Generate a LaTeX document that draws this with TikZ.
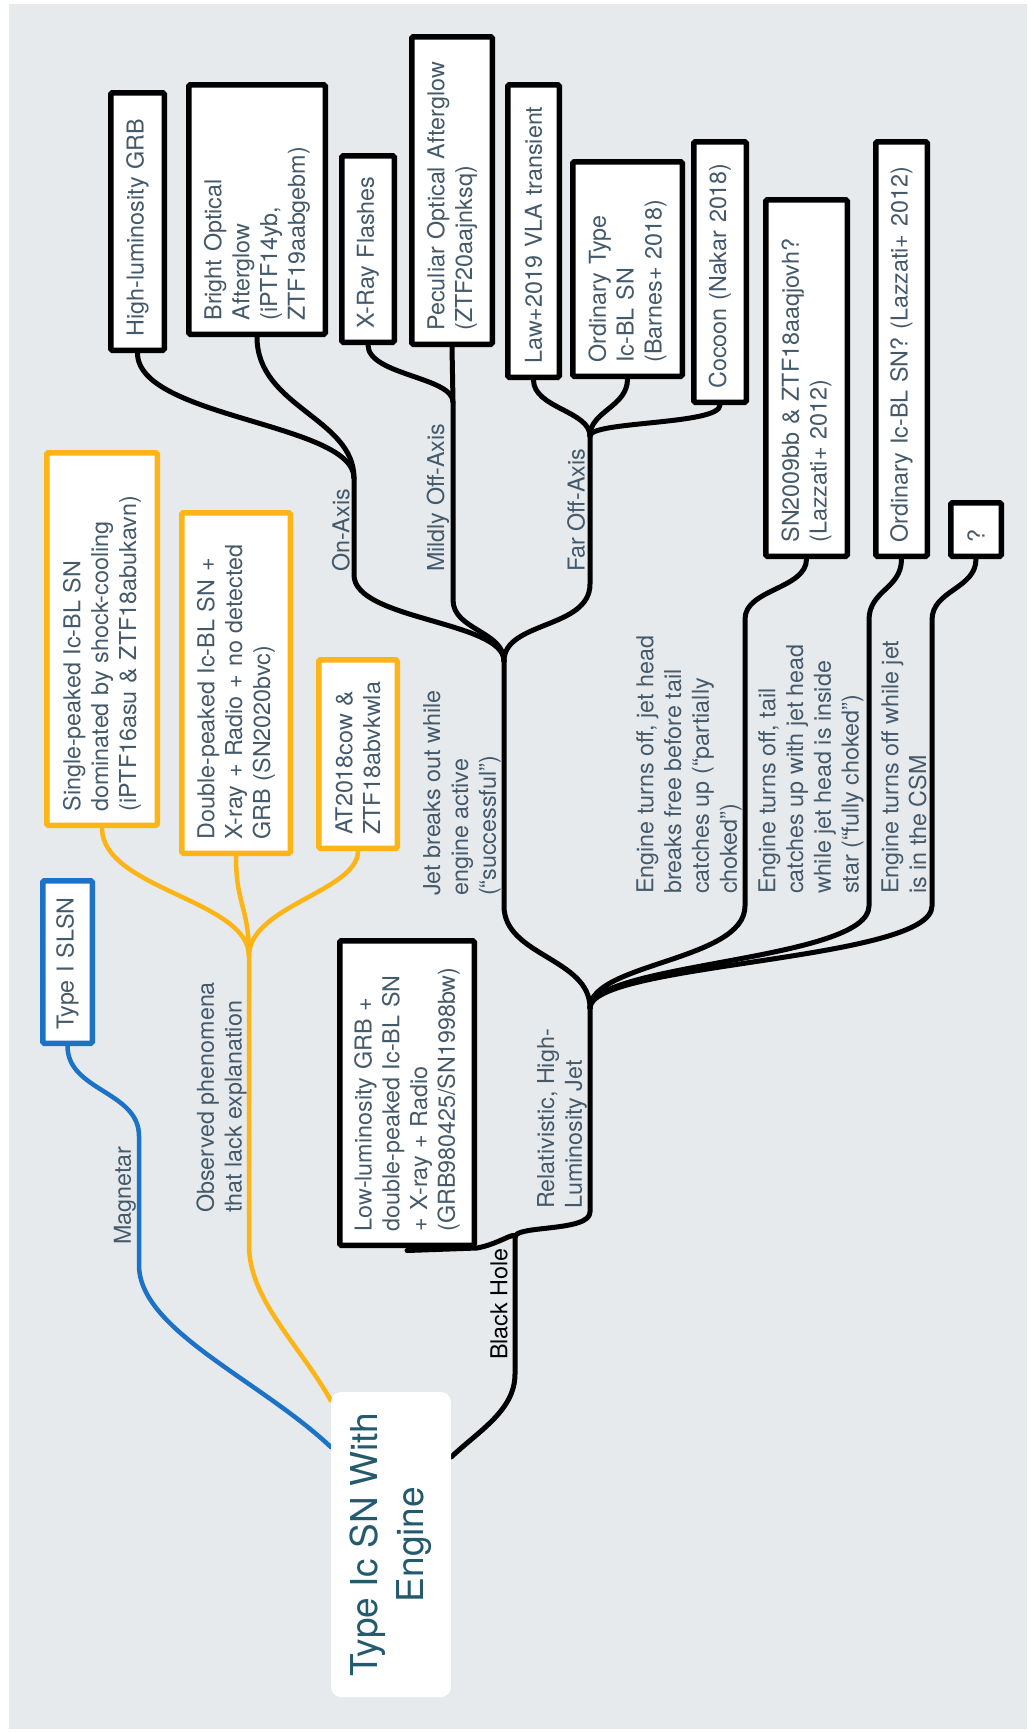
\documentclass[tikz,border=0pt]{standalone}
\usepackage{fontspec}
\setmainfont{TeX Gyre Heros}
\definecolor{bggray}{HTML}{E6EAED}
\definecolor{txt}{HTML}{44596A}
\definecolor{roottxt}{HTML}{235A6E}
\definecolor{mblue}{HTML}{1C72C6}
\definecolor{morange}{HTML}{FDB515}
\pgfdeclarelayer{back}
\pgfdeclarelayer{edges}
\pgfsetlayers{back,edges,main}
\hyphenpenalty=10000
\exhyphenpenalty=10000
\newcommand\mkbox[7]{%
  \pgfmathsetmacro\mkbxx{(#3+#5)/2}%
  \pgfmathsetmacro\mkbxy{(#4+#6)/2}%
  \pgfmathsetmacro\mkbxw{#6-#4-5.5}%
  \pgfmathsetmacro\mkbxh{#5-#3-5.5}%
  \pgfmathsetmacro\mkbxt{#6-#4-33}%
  \node[#2, minimum width=\mkbxw pt, minimum height=\mkbxh pt, text width=\mkbxt pt] (#1) at (\mkbxx,\mkbxy) {#7};%
}
\begin{document}
\begin{tikzpicture}[x=1pt,y=-1pt,
  txtfont/.style={font=\fontsize{23.3}{27.8}\selectfont},
  tbox/.style={draw=black, line width=5.5pt, fill=white, rotate=90, align=left,
    inner xsep=13.75pt, inner ysep=0pt, txtfont, text=txt, rounded corners=1.5pt},
  obox/.style={tbox, draw=morange},
  bbox/.style={tbox, draw=mblue},
  lbl/.style={rotate=90, align=left, anchor=west, inner sep=0pt, txtfont, text=txt},
  rootbox/.style={fill=white, rounded corners=10pt, rotate=90, align=center, inner sep=0pt,
    minimum width=305pt, minimum height=120pt, font=\fontsize{37}{46}\selectfont, text=roottxt},
  conn/.style={draw=black, line width=5pt, line cap=round, line join=round},
  oconn/.style={draw=morange, line width=4.5pt, line cap=round, line join=round},
  bconn/.style={draw=mblue, line width=4.5pt, line cap=round, line join=round}]

\useasboundingbox (0,0) rectangle (1029,1732);
\begin{pgfonlayer}{back}
\fill[bggray] (9,4) rectangle (1027,1729);
\end{pgfonlayer}

% root
\node[rootbox] (root) at (391,1544.5) {Type Ic SN With\\Engine};

% top boxes
\mkbox{hl}{tbox}{108}{90}{167}{353}{High-luminosity GRB}
\mkbox{bo}{tbox}{186}{82}{328}{337}{Bright Optical\\Afterglow\\(iPTF14yb,\\ZTF19aabgebm)}
\mkbox{xr}{tbox}{339}{153}{397}{345}{X-Ray Flashes}
\mkbox{pe}{tbox}{409}{34}{495}{347}{Peculiar Optical Afterglow\\(ZTF20aajnksq)}
\mkbox{law}{tbox}{505}{82}{562}{380}{Law+2019 VLA transient}
\mkbox{ot}{tbox}{570}{159}{685}{379}{Ordinary Type\\Ic-BL SN\\(Barnes+ 2018)}
\mkbox{co}{tbox}{691}{139}{749}{405}{Cocoon (Nakar 2018)}
\mkbox{sn}{tbox}{763}{197}{850}{559}{SN2009bb \& ZTF18aaqjovh?\\(Lazzati+ 2012)}
\mkbox{oi}{tbox}{873}{139}{930}{559}{Ordinary Ic-BL SN? (Lazzati+ 2012)}
\mkbox{qq}{tbox}{948}{500}{1004}{559}{?}
% orange boxes
\mkbox{sp}{obox}{44}{450}{160}{828}{Single-peaked Ic-BL SN\\dominated by shock-cooling\\(iPTF16asu \& ZTF18abukavn)}
\mkbox{dp}{obox}{179}{510}{293}{856}{Double-peaked Ic-BL SN +\\X-ray + Radio + no detected\\GRB (SN2020bvc)}
\mkbox{at}{obox}{316}{657}{400}{851}{AT2018cow \&\\ZTF18abvkwla}
% blue box
\mkbox{sl}{bbox}{40}{878}{95}{1046}{Type I SLSN}
% low-luminosity box
\mkbox{ll}{tbox}{337}{938}{477}{1248}{Low-luminosity GRB +\\double-peaked Ic-BL SN\\+ X-ray + Radio\\(GRB980425/SN1998bw)}

% labels
\node[lbl] (lon) at (341,572) {On-Axis};
\node[lbl] (lmild) at (438,572) {Mildly Off-Axis};
\node[lbl] (lfar) at (576,572) {Far Off-Axis};
\node[lbl] (lsucc) at (462,896) {Jet breaks out while\\engine active\\(“successful”)};
\node[lbl] (lpart) at (689,894) {Engine turns off, jet head\\breaks free before tail\\catches up (“partially\\choked”)};
\node[lbl] (lfull) at (811,894) {Engine turns off, tail\\catches up with jet head\\while jet head is inside\\star (“fully choked”)};
\node[lbl] (lcsm) at (904,894) {Engine turns off while jet\\is in the CSM};
\node[lbl] (lrel) at (562,1209) {Relativistic, High-\\Luminosity Jet};
\node[lbl, text=black] (lbh) at (499,1360) {Black Hole};
\node[lbl] (lmag) at (125,1245) {Magnetar};
\node[lbl] (lobs) at (221.5,1213) {Observed phenomena\\that lack explanation};

% junctions
\coordinate (Jon) at (354,478);
\coordinate (Jon2) at (354,575);
\coordinate (Jmild) at (453,402);
\coordinate (Jmild2) at (453,600);
\coordinate (Jfar) at (590,436);
\coordinate (Jfar2) at (590,584);
\coordinate (Jsucc) at (504,661);
\coordinate (Jsucc2) at (504,906);
\coordinate (Jmain) at (590,1008);
\coordinate (Jrel) at (590,1212);
\coordinate (Jbh) at (515,1237);
\coordinate (Jbh2) at (515,1374);
\coordinate (Pa1) at (745,619);
\coordinate (Pa2) at (745,906);
\coordinate (Fu1) at (869,620);
\coordinate (Fu2) at (869,906);
\coordinate (Cs1) at (932,620);
\coordinate (Cs2) at (932,906);
\coordinate (Jobs) at (249,956);
\coordinate (Jobs2) at (249,1245);
\coordinate (Bl1) at (139,1136);
\coordinate (Bl2) at (139,1265);

\begin{pgfonlayer}{edges}
% successful branch
\draw[conn] (hl.west) .. controls +(0,65) and +(0,-55) .. (Jon);
\draw[conn] (bo.west) .. controls +(0,70) and +(0,-60) .. (Jon);
\draw[conn] (Jon) -- (Jon2) .. controls +(0,45) and +(0,-40) .. (Jsucc);
\draw[conn] (xr.west) .. controls +(0,30) and +(0,-25) .. (Jmild);
\draw[conn] (pe.west) -- (Jmild) -- (Jmild2) .. controls +(0,30) and +(0,-30) .. (Jsucc);
\draw[conn] (law.west) .. controls +(0,28) and +(0,-25) .. (Jfar);
\draw[conn] (ot.west) .. controls +(0,28) and +(0,-25) .. (Jfar);
\draw[conn] (co.west) .. controls +(0,20) and +(0,-15) .. (Jfar);
\draw[conn] (Jfar) -- (Jfar2) .. controls +(0,45) and +(0,-40) .. (Jsucc);
\draw[conn] (Jsucc) -- (Jsucc2) .. controls +(0,50) and +(0,-50) .. (Jmain);
% choked branches
\draw[conn] (sn.west) .. controls +(0,30) and +(0,-30) .. (Pa1) -- (Pa2) .. controls +(0,55) and +(0,-45) .. (Jmain);
\draw[conn] (oi.west) .. controls +(0,30) and +(0,-30) .. (Fu1) -- (Fu2) .. controls +(0,55) and +(0,-45) .. (Jmain);
\draw[conn] (qq.west) .. controls +(0,30) and +(0,-30) .. (Cs1) -- (Cs2) .. controls +(0,55) and +(0,-45) .. (Jmain);
% relativistic jet and black hole
\draw[conn] (Jmain) -- (Jrel) .. controls (590,1232) and (515,1225) .. (Jbh);
\draw[conn] (Jbh) .. controls +(0,-6) and +(22,-4) .. (ll.south west) -- ([yshift=-2.5pt]ll.west);
\draw[conn] (Jbh) -- (Jbh2) .. controls (515,1410) and (480,1430) .. ([yshift=87.5pt]root.south);
% blue magnetar
\draw[bconn] (sl.west) .. controls +(0,45) and +(0,-45) .. (Bl1) -- (Bl2) .. controls +(0,65) and (260,1380) .. ([yshift=97.5pt]root.north);
% orange observed
\draw[oconn] (sp.west) .. controls +(0,61) and +(0,-56) .. (Jobs);
\draw[oconn] (dp.west) .. controls +(0,50) and +(0,-50) .. (Jobs);
\draw[oconn] (at.west) .. controls +(0,40) and +(0,-50) .. (Jobs);
\draw[oconn] (Jobs) -- (Jobs2) .. controls +(0,55) and (300,1345) .. ([yshift=144pt]root.north);
\end{pgfonlayer}
\end{tikzpicture}
\end{document}
